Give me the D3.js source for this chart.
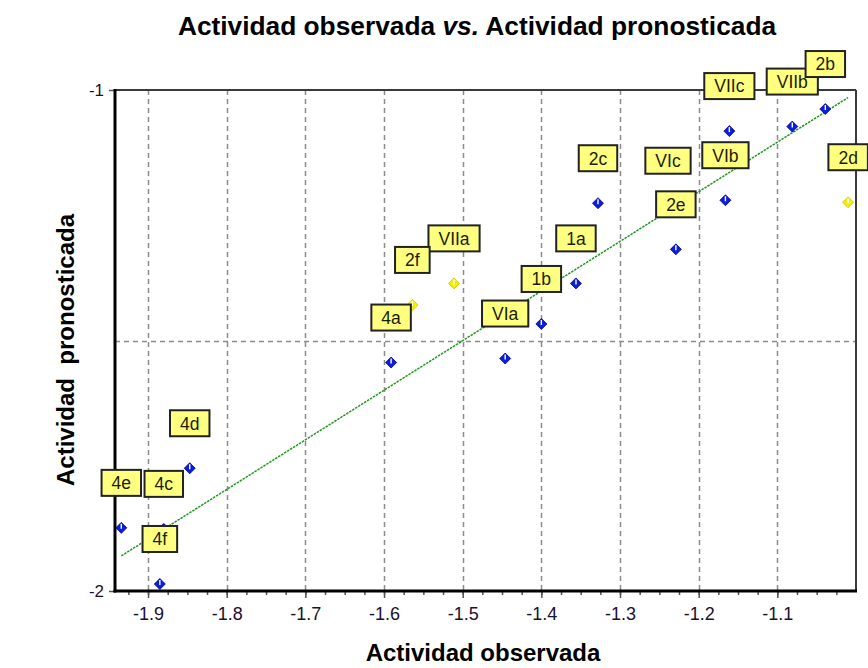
<!DOCTYPE html>
<html>
<head>
<meta charset="utf-8">
<script src="https://cdn.jsdelivr.net/npm/d3@7"></script>
<style>
  html, body { margin: 0; padding: 0; background: #fff; }
  svg { display: block; font-family: Arial, "Liberation Sans", sans-serif; }
</style>
</head>
<body>
<svg id="chart" width="868" height="668"></svg>
<script>
// ---- data ----
const compounds = ["VIIb","2b","VIIc","VIb","2d","VIc","2e","2c","1a","1b","VIa","VIIa","2f","4a","4d","4e","4c","4f"];
const observed  = [-1.081,-1.039,-1.161,-1.166,-1.010,-1.239,-1.229,-1.328,-1.356,-1.400,-1.446,-1.511,-1.564,-1.591,-1.847,-1.934,-1.880,-1.885];
const predicted = [-1.073,-1.038,-1.082,-1.220,-1.224,-1.231,-1.318,-1.226,-1.386,-1.467,-1.536,-1.386,-1.429,-1.544,-1.755,-1.874,-1.876,-1.986];
const group     = ["b","b","b","b","y","b","b","b","b","b","b","y","y","b","b","b","b","b"];
const fitObs    = [-1.934, -1.010];
const fitPred   = [-1.930, -1.015];
const xTicks    = [-1.9,-1.8,-1.7,-1.6,-1.5,-1.4,-1.3,-1.2,-1.1];
const yTicks    = [-2, -1];
const yGrid     = [-1.5];
const titleA = "Actividad observada ", titleB = "vs.", titleC = " Actividad pronosticada";
const xTitle = "Actividad observada";
const yTitle = "Actividad\u00A0\u00A0pronosticada";

// ---- layout ----
const svg = d3.select("#chart");
const L = 115, R = 856, T = 90, B = 591;
const x = d3.scaleLinear().domain([-1.942, -1.0]).range([L, R]);
const y = d3.scaleLinear().domain([-2, -1]).range([B, T]);
const FONT = "Arial, 'Liberation Sans', sans-serif";

// grid
const grid = svg.append("g").attr("stroke", "#8c8c8c").attr("stroke-width", 1.5).attr("stroke-dasharray", "5,4");
grid.selectAll("line.v").data(xTicks).join("line")
  .attr("x1", d => Math.round(x(d)) + 0.5).attr("x2", d => Math.round(x(d)) + 0.5)
  .attr("y1", T).attr("y2", B);
grid.selectAll("line.h").data(yGrid).join("line")
  .attr("x1", L).attr("x2", R)
  .attr("y1", d => Math.round(y(d)) + 0.5).attr("y2", d => Math.round(y(d)) + 0.5);

// frame top/right
svg.append("line").attr("x1", L).attr("x2", R).attr("y1", T).attr("y2", T).attr("stroke", "#3a3a3a").attr("stroke-width", 2);
svg.append("line").attr("x1", R).attr("x2", R).attr("y1", T).attr("y2", B).attr("stroke", "#3a3a3a").attr("stroke-width", 2);

// x axis
const minor = d3.range(0, 38).map(i => -1.925 + i * 0.025).filter(v => v > -1.942 && v < -1.0);
const xAxisMinor = d3.axisBottom(x).tickValues(minor).tickSize(4).tickFormat("");
const gxm = svg.append("g").attr("transform", `translate(0,${B})`).call(xAxisMinor);
gxm.select(".domain").remove();
gxm.selectAll("line").attr("stroke", "#555").attr("stroke-width", 1.5);
const xAxis = d3.axisBottom(x).tickValues(xTicks).tickSize(7).tickPadding(9);
const gx = svg.append("g").attr("transform", `translate(0,${B})`).call(xAxis);
gx.select(".domain").remove();
gx.selectAll("line").attr("stroke", "#555").attr("stroke-width", 1.5);
gx.selectAll("text").attr("font-size", 18).attr("fill", "#1a1030").attr("font-family", FONT)
  .text(d => "-" + Math.abs(d).toFixed(1));

// y axis
const yAxis = d3.axisLeft(y).tickValues(yTicks).tickSize(6).tickPadding(5).tickFormat(d => "-" + Math.abs(d));
const gy = svg.append("g").attr("transform", `translate(${L},0)`).call(yAxis);
gy.select(".domain").remove();
gy.selectAll("line").attr("stroke", "#555").attr("stroke-width", 1.5);
gy.selectAll("text").attr("font-size", 17).attr("fill", "#1a1030").attr("font-family", FONT);

// thick left & bottom axes
svg.append("line").attr("x1", L).attr("x2", L).attr("y1", T - 1).attr("y2", B + 1.5).attr("stroke", "#000").attr("stroke-width", 3);
svg.append("line").attr("x1", L - 1.5).attr("x2", R + 1).attr("y1", B).attr("y2", B).attr("stroke", "#000").attr("stroke-width", 3);

// fit line
svg.append("line")
  .attr("x1", x(fitObs[0])).attr("y1", y(fitPred[0]))
  .attr("x2", x(fitObs[1])).attr("y2", y(fitPred[1]))
  .attr("stroke", "#1f9a1f").attr("stroke-width", 1.5).attr("stroke-dasharray", "2.5,1");

// points
const pts = compounds.map((c, i) => ({ name: c, ox: observed[i], py: predicted[i], g: group[i] }));
const pg = svg.append("g").selectAll("g").data(pts).join("g")
  .attr("transform", d => `translate(${x(d.ox)},${y(d.py)})`);
pg.append("path")
  .attr("d", "M0,-5.5 L5.5,0 L0,5.5 L-5.5,0 Z")
  .attr("fill", d => d.g === "y" ? "#f2f000" : "#0a1ee0")
  .attr("stroke", d => d.g === "y" ? "#c8c000" : "#00008a")
  .attr("stroke-width", 0.8);
pg.append("line").attr("x1", 0).attr("x2", 0).attr("y1", -4).attr("y2", 1)
  .attr("stroke", "#fff").attr("stroke-width", 1.4);

// labels
const lg = svg.append("g").selectAll("g").data(pts).join("g")
  .attr("transform", d => `translate(${x(d.ox)},${y(d.py) - 45})`);
lg.append("text").attr("class", "lbl")
  .attr("text-anchor", "middle").attr("dy", "0.36em")
  .attr("font-size", 17.5).attr("fill", "#1c1c00")
  .text(d => d.name);
lg.each(function() {
  const g = d3.select(this);
  const w = g.select("text").node().getComputedTextLength() + 20;
  g.insert("rect", "text")
    .attr("x", -w / 2).attr("y", -13).attr("width", w).attr("height", 26)
    .attr("fill", "#ffff80").attr("stroke", "#222").attr("stroke-width", 2);
});

// titles
const tt = svg.append("text").attr("x", 477).attr("y", 35).attr("text-anchor", "middle")
  .attr("font-size", 26.3).attr("font-weight", "bold").attr("fill", "#000");
tt.append("tspan").text(titleA);
tt.append("tspan").attr("font-style", "italic").text(titleB);
tt.append("tspan").text(titleC);

svg.append("text").attr("x", 483).attr("y", 661).attr("text-anchor", "middle")
  .attr("font-size", 24).attr("font-weight", "bold").attr("fill", "#000").text(xTitle);

svg.append("text").attr("transform", "translate(74,350) rotate(-90)").attr("text-anchor", "middle")
  .attr("font-size", 24).attr("font-weight", "bold").attr("fill", "#000").text(yTitle);
</script>
</body>
</html>
